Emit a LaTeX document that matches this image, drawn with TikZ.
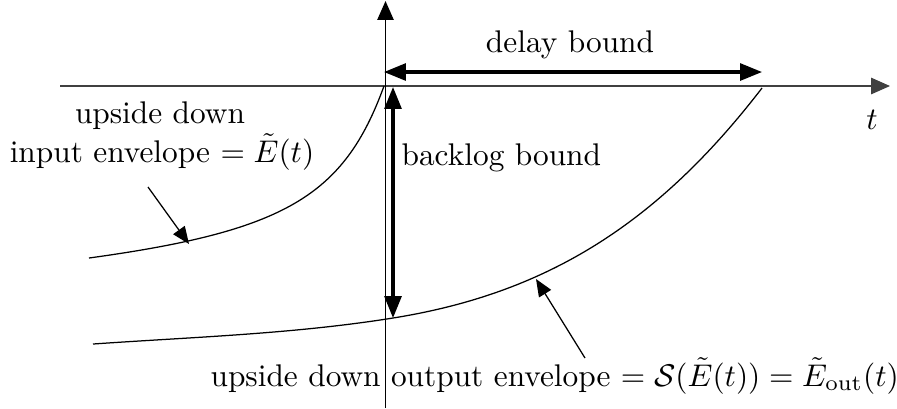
\documentclass[tikz,border=0pt]{standalone}
\usetikzlibrary{arrows.meta}
\begin{document}
\begin{tikzpicture}[x=0.319pt,y=-0.319pt,
  axis/.style={line width=0.5pt,-{Triangle[length=6pt,width=5.2pt]}},
  bound/.style={line width=1pt,{Triangle[length=7pt,width=5.4pt]}-{Triangle[length=7pt,width=5.4pt]}},
  pointer/.style={line width=0.4pt,-{Triangle[length=5.5pt,width=4.5pt]}},
  envelope/.style={line width=0.4pt},
  lbl/.style={inner sep=0pt,anchor=base}]
\useasboundingbox (0,0) rectangle (897,408);
% axes
\coordinate (xs) at (60,86);
\coordinate (xe) at (890,86);
\coordinate (ys) at (385.5,408);
\coordinate (ye) at (385.5,1);
\draw[axis,black!75] (xs) -- (xe);
\draw[axis,line width=0.4pt] (ys) -- (ye);
% envelopes
\coordinate (in0) at (89,258);
\coordinate (in1) at (384,86);
\draw[envelope] (in0) .. controls (285,231) and (344,196) .. (in1);
\coordinate (out0) at (93,344);
\coordinate (outm) at (393,318);
\coordinate (out1) at (762,88);
\draw[envelope] (out0) .. controls (193,337) and (293,334) .. (outm)
  .. controls (546,293.5) and (657,224.5) .. (out1);
% bounds
\coordinate (d0) at (384,72);
\coordinate (d1) at (762,72);
\draw[bound] (d0) -- (d1);
\coordinate (b0) at (393,87);
\draw[bound] (b0) -- (outm);
% labels
\node[lbl] (dl) at (570,52) {delay bound};
\node[lbl,anchor=base west] (bl) at (401,165) {backlog bound};
\node[lbl] (tl) at (872,129) {$t$};
\node[lbl] (il1) at (160,123) {upside down};
\node[lbl] (il2) at (162,162) {input envelope $=\tilde{E}(t)$};
\node[lbl,anchor=base west] (ol) at (210,386) {upside down output envelope $=\mathcal{S}(\tilde{E}(t))=\tilde{E}_{\mathrm{out}}(t)$};
% pointers
\coordinate (ip0) at (148,187);
\coordinate (ip1) at (189,244);
\draw[pointer] (ip0) -- (ip1);
\coordinate (op0) at (585,358);
\coordinate (op1) at (536,279);
\draw[pointer] (op0) -- (op1);
\end{tikzpicture}
\end{document}
